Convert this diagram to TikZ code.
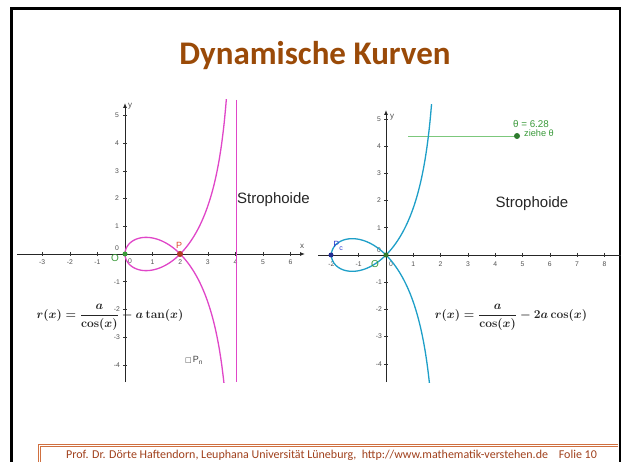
\documentclass[tikz,border=0pt]{standalone}
\usepackage{amsmath}
\usepackage[no-math]{fontspec}
\setmainfont{Carlito}
\newfontfamily\arialf{Liberation Sans}
\newfontfamily\dejav{DejaVu Sans}
\usetikzlibrary{arrows.meta}
\definecolor{magc}{HTML}{E046C8}
\definecolor{tealc}{HTML}{1E9FC8}
\definecolor{titlec}{HTML}{9A4A08}
\definecolor{footc}{HTML}{A0401C}
\definecolor{framec}{HTML}{D07040}
\definecolor{ggreen}{HTML}{3A9A3A}
\definecolor{lgreen}{HTML}{7CC87C}
\definecolor{tickc}{HTML}{505050}
\definecolor{pred}{HTML}{E04A30}
\definecolor{pblue}{HTML}{3040D0}
\begin{document}
\begin{tikzpicture}[x=1pt,y=-1pt,
  ticklab/.style={font=\arialf\fontsize{6.8}{7}\selectfont, text=tickc, inner sep=0pt},
  axisline/.style={line width=0.9pt, black!85},
  curvel/.style={line width=1.3pt},
  stroph/.style={font=\arialf\fontsize{15}{17}\selectfont, text=black!85, inner sep=0pt},
  formula/.style={inner sep=0pt, text=black!85, font=\fontsize{11.7}{14}\selectfont\boldmath},
  dotpt/.style={circle, inner sep=0pt, minimum size=5pt}
]
\useasboundingbox (0,0) rectangle (621,462);
\fill[white] (0,0) rectangle (621,462);
% outer frame
\draw[line width=2.5pt, black] (11.5,470) -- (11.5,8.5) -- (621,8.5);
\draw[line width=2pt, black] (619.5,8.5) -- (619.5,470);
% footer frame
\draw[framec, line width=0.8pt] (38.3,470) -- (38.3,444.3) -- (618,444.3);
\draw[framec, line width=0.8pt] (40.5,470) -- (40.5,446.5) -- (618,446.5);
% title
\node[anchor=base, text=titlec, inner sep=0pt] (title) at (315,65) {\fontsize{33}{40}\selectfont\bfseries Dynamische Kurven};
% footer
\node[anchor=base west, text=footc, inner sep=0pt] (footer) at (66,458.3) {\fontsize{12}{14}\selectfont Prof. Dr. Dörte Haftendorn, Leuphana Universität Lüneburg,\ \ http://www.mathematik-verstehen.de\ \ \ \ Folie 10};

% ===== left graph =====
\draw[axisline, -{Latex[length=5pt,width=4pt]}] (17,254) -- (305,254);
\draw[axisline, -{Latex[length=5pt,width=4pt]}] (125,382) -- (125,103);
\foreach \i in {-3,-2,-1,1,2,3,4,5,6} {
  \draw[black!80, line width=0.6pt] ({125+27.6*\i},252) -- ({125+27.6*\i},256);
  \node[ticklab] (lx\i) at ({125+27.6*\i},262) {\i};
}
\foreach \j in {-4,-3,-2,-1,1,2,3,4,5} {
  \draw[black!80, line width=0.6pt] (123,{254-27.7*\j}) -- (127,{254-27.7*\j});
  \node[ticklab] (ly\j) at (117,{254-27.7*\j}) {\j};
}
\node[ticklab] (lx0) at (130,261) {0};
\node[ticklab] (ly0) at (117,248) {0};
\node[ticklab, font=\arialf\fontsize{8}{9}\selectfont] (lxl) at (302,246) {x};
\node[ticklab, font=\arialf\fontsize{8}{9}\selectfont] (lyl) at (130,106) {y};
\begin{scope}
  \clip (15,100) rectangle (312,382);
  \draw[magc, line width=1.3pt] (236.4,100) -- (236.4,382);
  \begin{scope}[shift={(125pt,-254pt)}, x=27.6pt, y=27.7pt]
    \draw[magc, curvel, smooth, samples=160, domain=-1.945:1.945, variable=\t]
      plot ({\t*\t}, {(\t*\t-2)*\t/sqrt(4-\t*\t)});
  \end{scope}
\end{scope}
\node[dotpt, fill=ggreen] (lO) at (125,254) {};
\node[text=ggreen, inner sep=0pt, font=\arialf\fontsize{10}{11}\selectfont] (lOl) at (115,258) {O};
\node[dotpt, fill=pred!80!black, minimum size=6pt] (lP) at (180,254) {};
\node[text=pred, inner sep=0pt, font=\arialf\fontsize{9}{10}\selectfont] (lPl) at (179,245) {P};
\node[stroph, anchor=west] (lstr) at (237,200) {Strophoide};
\node[formula] (lform) at (110,317) {$r(x)=\dfrac{a}{\cos(x)}-a\tan(x)$};
\node[inner sep=0pt, text=black!75, font=\arialf\fontsize{9}{10}\selectfont, anchor=west] (lPn) at (185,360) {{\dejav\fontsize{7}{8}\selectfont □}\kern1pt P\raisebox{-2pt}{\fontsize{6.5}{7}\selectfont n}};

% ===== right graph =====
\draw[axisline] (318,255) -- (621,255);
\draw[axisline, -{Latex[length=5pt,width=4pt]}] (386,382) -- (386,110);
\foreach \i in {-2,-1,1,2,3,4,5,6,7,8} {
  \draw[black!80, line width=0.6pt] ({386+27.3*\i},253) -- ({386+27.3*\i},257);
  \node[ticklab] (rx\i) at ({386+27.3*\i},264) {\i};
}
\foreach \j in {-4,-3,-2,-1,1,2,3,4,5} {
  \draw[black!80, line width=0.6pt] (384,{255-27.2*\j}) -- (388,{255-27.2*\j});
  \node[ticklab] (ry\j) at (379,{255-27.2*\j}) {\j};
}
\node[ticklab] (rx0) at (391,264) {0};
\node[ticklab] (ry0) at (379,250) {0};
\node[ticklab, font=\arialf\fontsize{8}{9}\selectfont] (ryl) at (392,117) {y};
% slider
\draw[lgreen, line width=0.9pt] (408,136) -- (517,136);
\node[dotpt, fill=ggreen!80!black, minimum size=6pt] (slider) at (517,136) {};
\node[text=ggreen, inner sep=0pt, font=\arialf\fontsize{9.8}{10}\selectfont] (thetal) at (531,124) {θ = 6.28};
\node[text=ggreen, inner sep=0pt, font=\arialf\fontsize{9.2}{10}\selectfont] (zieh) at (539,133) {ziehe θ};
\begin{scope}
  \clip (315,105) rectangle (621,382);
  \begin{scope}[shift={(386pt,-255pt)}, x=27.3pt, y=27.2pt]
    \draw[tealc, curvel, smooth, samples=200, domain=-1.32:1.32, variable=\t]
      plot ({-2*cos(2*\t r)}, {2*tan(\t r)-2*sin(2*\t r)});
  \end{scope}
\end{scope}
\node[dotpt, fill=ggreen!80!black] (rO) at (386,255) {};
\node[text=ggreen, inner sep=0pt, font=\arialf\fontsize{10}{11}\selectfont] (rOl) at (375,264) {O};
\node[dotpt, fill=pblue!70!black] (rP) at (331,255) {};
\node[text=pblue, inner sep=0pt, font=\arialf\fontsize{9}{10}\selectfont] (rPl) at (338,246) {P\raisebox{-2.5pt}{\fontsize{7}{8}\selectfont c}};
\node[stroph] (rstr) at (532,204) {Strophoide};
\node[formula] (rform) at (511,317) {$r(x)=\dfrac{a}{\cos(x)}-2a\cos(x)$};
\end{tikzpicture}
\end{document}
